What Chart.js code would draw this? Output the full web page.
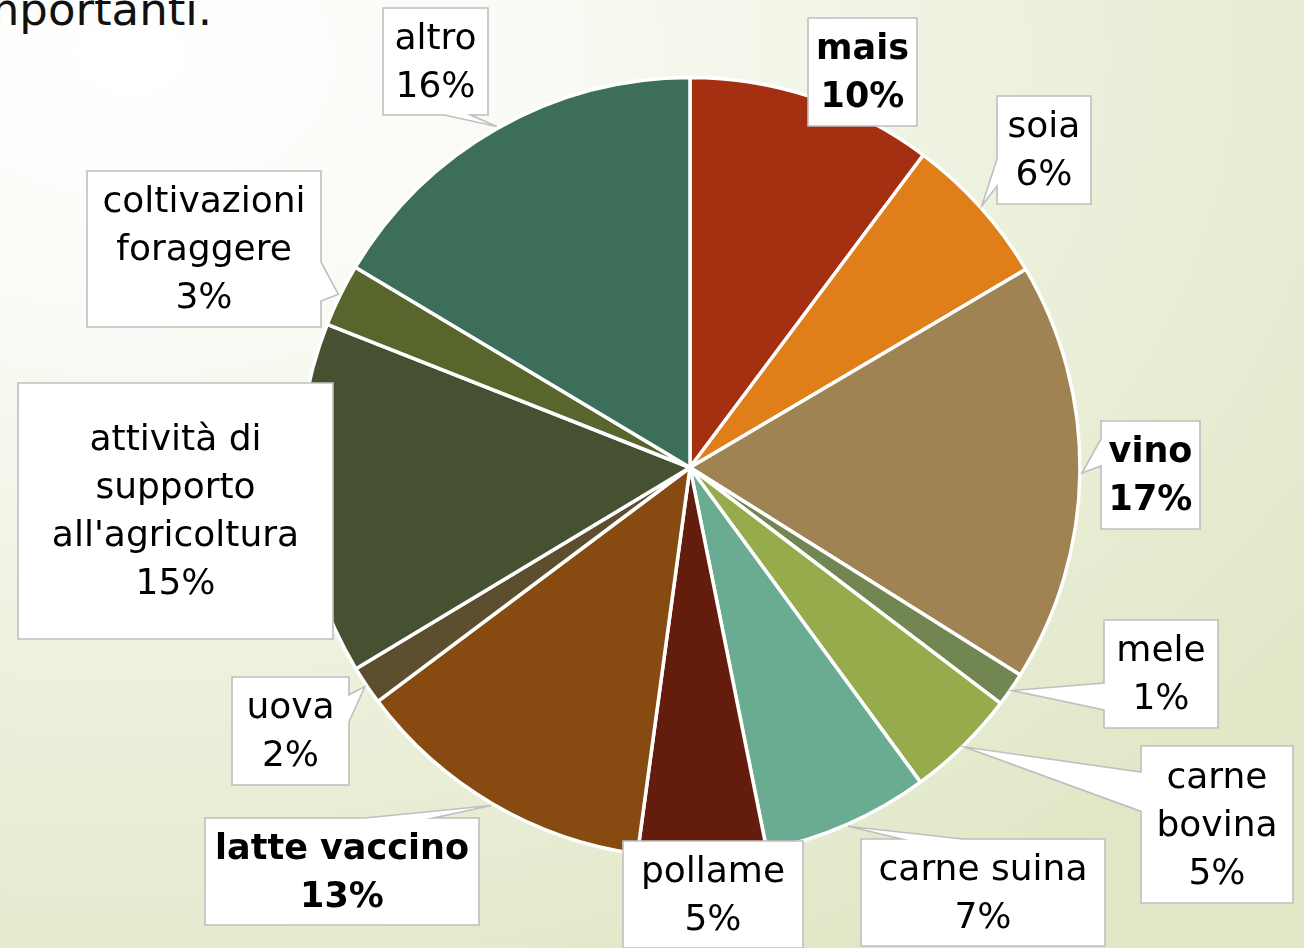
<!DOCTYPE html>
<html>
<head>
<meta charset="utf-8">
<script src="https://cdn.jsdelivr.net/npm/chart.js@4/dist/chart.umd.min.js"></script>
<style>
  html, body { margin: 0; padding: 0; }
  #pagina {
    position: relative; width: 1304px; height: 948px; overflow: hidden;
    background: radial-gradient(ellipse 115% 110% at 10% 6%, #ffffff 0%, #fafbf6 25%, #edf1de 58%, #e0e7c6 100%);
  }
  #titolo {
    position: absolute; left: -37px; top: -17px;
    font-family: 'DejaVu Sans', sans-serif; font-size: 45px; color: #111111; white-space: nowrap;
  }
  #lienzo { position: absolute; left: 0; top: 0; }
</style>
</head>
<body>
<div id="pagina">
  <div id="titolo">importanti.</div>
  <canvas id="lienzo" width="1304" height="948"></canvas>
</div>
<script>
// valori (quota %)
const categorie = ["mais", "soia", "vino", "mele", "carne bovina", "carne suina", "pollame",
    "latte vaccino", "uova", "attività di supporto all'agricoltura", "coltivazioni foraggere", "altro"]
const valori = [10.2, 6.3, 17.4, 1.4, 4.6, 6.9, 5.3, 12.6, 1.6, 14.6, 2.6, 16.4]
const colori = ["#a52f11", "#e07e1a", "#a08352", "#728651", "#96ac4c", "#69ac91", "#641c0c",
    "#874a10", "#5e4e30", "#455131", "#58662d", "#3c6e5a"]

// testo a capo per le etichette
const righe = {
    "carne bovina": ["carne", "bovina"],
    "attività di supporto all'agricoltura": ["attività di", "supporto", "all'agricoltura"],
    "coltivazioni foraggere": ["coltivazioni", "foraggere"]
}
const grassetto = ["mais", "vino", "latte vaccino"]
// riquadri delle etichette [x, y, larghezza, altezza]
const riquadri = [
    [808, 18, 109, 108], [997, 96, 94, 108], [1101, 421, 99, 108], [1104, 620, 114, 108],
    [1141, 746, 152, 157], [861, 839, 244, 107], [623, 841, 180, 107], [205, 818, 274, 107],
    [232, 677, 117, 108], [18, 383, 315, 256], [87, 171, 234, 156], [383, 8, 105, 107]
]

function fumetto(ctx, x, y, w, h, tx, ty) {
    const cx = x + w / 2, cy = y + h / 2
    const dentro = tx >= x - 3 && tx <= x + w + 3 && ty >= y - 3 && ty <= y + h + 3
    ctx.beginPath()
    if (dentro) {
        ctx.rect(x, y, w, h)
    } else {
        const nx = (tx - cx) / w, ny = (ty - cy) / h
        const vert = Math.abs(ny) >= Math.abs(nx)
        const xa = x + w * (tx > cx ? 7 : 2) / 12, xb = x + w * (tx > cx ? 10 : 5) / 12
        const ya = y + h * (ty > cy ? 7 : 2) / 12, yb = y + h * (ty > cy ? 10 : 5) / 12
        ctx.moveTo(x, y)
        if (vert && ty < cy) { ctx.lineTo(xa, y); ctx.lineTo(tx, ty); ctx.lineTo(xb, y) }
        ctx.lineTo(x + w, y)
        if (!vert && tx > cx) { ctx.lineTo(x + w, ya); ctx.lineTo(tx, ty); ctx.lineTo(x + w, yb) }
        ctx.lineTo(x + w, y + h)
        if (vert && ty > cy) { ctx.lineTo(xb, y + h); ctx.lineTo(tx, ty); ctx.lineTo(xa, y + h) }
        ctx.lineTo(x, y + h)
        if (!vert && tx < cx) { ctx.lineTo(x, yb); ctx.lineTo(tx, ty); ctx.lineTo(x, ya) }
        ctx.closePath()
    }
    ctx.fillStyle = "#ffffff"
    ctx.fill()
    ctx.strokeStyle = "#bfbfbf"
    ctx.lineWidth = 1.6
    ctx.stroke()
}

const etichette = {
    id: "etichette",
    afterDatasetsDraw(chart) {
        const ctx = chart.ctx
        const meta = chart.getDatasetMeta(0)
        const totale = valori.reduce((a, b) => a + b, 0)
        ctx.save()
        meta.data.forEach((arco, i) => {
            const p = arco.getProps(["x", "y", "startAngle", "endAngle", "outerRadius"], true)
            const medio = (p.startAngle + p.endAngle) / 2
            const tx = p.x + Math.cos(medio) * (p.outerRadius + 2)
            const ty = p.y + Math.sin(medio) * (p.outerRadius + 2)
            const [x, y, w, h] = riquadri[i]
            fumetto(ctx, x, y, w, h, tx, ty)
            const nome = categorie[i]
            const testo = (righe[nome] || [nome]).concat([Math.round(valori[i] / totale * 100) + "%"])
            const bold = grassetto.includes(nome)
            ctx.font = (bold ? "bold 35px" : "36px") + " 'DejaVu Sans', sans-serif"
            ctx.fillStyle = "#000000"
            ctx.textAlign = "center"
            ctx.textBaseline = "middle"
            const alt = 48
            const y0 = y + h / 2 - (testo.length - 1) * alt / 2 + 2
            testo.forEach((t, k) => ctx.fillText(t, x + w / 2, y0 + k * alt))
        })
        ctx.restore()
    }
}

new Chart(document.getElementById("lienzo"), {
    type: "pie",
    data: {
        labels: categorie,
        datasets: [{
            data: valori,
            backgroundColor: colori,
            borderColor: "#ffffff",
            borderWidth: 3.5
        }]
    },
    options: {
        responsive: false,
        animation: false,
        radius: 390,
        layout: { padding: { left: 76, right: 0, top: 0, bottom: 13 } },
        plugins: {
            legend: { display: false },
            tooltip: { enabled: false }
        }
    },
    plugins: [etichette]
})
</script>
</body>
</html>
